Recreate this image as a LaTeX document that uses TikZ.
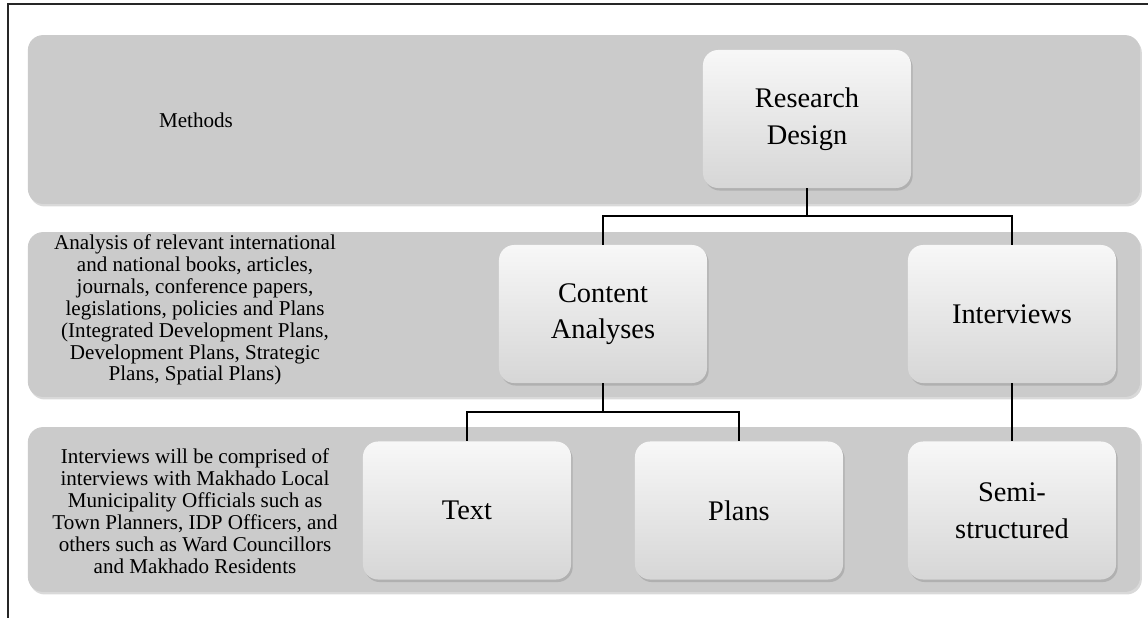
\documentclass[tikz,border=0pt]{standalone}
\usepackage{fontspec}
\setmainfont{Liberation Serif}
\usetikzlibrary{positioning, shadows}
\definecolor{bandgray}{RGB}{203,203,203}
\tikzset{
  band/.style={rectangle, rounded corners=0.38cm, fill=bandgray,
               minimum width=27.8cm, inner sep=0pt,
               drop shadow={shadow xshift=1.2pt, shadow yshift=-1.8pt, opacity=0.3}},
  stage/.style={rectangle, rounded corners=0.38cm, top color=white!97!black,
                bottom color=white!84!black, minimum width=5.2cm,
                minimum height=3.45cm, inner sep=0pt, align=center,
                font=\fontsize{20.2}{26}\selectfont,
                drop shadow={shadow xshift=1.2pt, shadow yshift=-1.8pt, opacity=0.35}},
  note/.style={align=center, font=\fontsize{15}{15.6}\selectfont},
  link/.style={line width=1.2pt}
}

\begin{document}
\begin{tikzpicture}[x=0.025cm, y=-0.025cm]
    \useasboundingbox (0,0) rectangle (1148,618);
    \draw[line width=0.9pt, black!85] (1148,4) -- (8,4) -- (8,618);

    % the three layers
    \node[band, minimum height=4.22cm] (methods) at (584,119.5) {};
    \node[band, minimum height=4.12cm] (analysis) at (584,314.5) {};
    \node[band, minimum height=4.12cm] (fieldwork) at (584,509.5) {};

    \node[note] (methodsnote) at (196,120) {Methods};
    \node[note] (analysisnote) at (195,310) {Analysis of relevant international\\
      and national books, articles,\\ journals, conference papers,\\
      legislations, policies and Plans\\ (Integrated Development Plans,\\
      Development Plans, Strategic\\ Plans, Spatial Plans)};
    \node[note] (fieldworknote) at (195,511) {Interviews will be comprised of\\
      interviews with Makhado Local\\ Municipality Officials such as\\
      Town Planners, IDP Officers, and\\ others such as Ward Councillors\\
      and Makhado Residents};

    % the tree
    \node[stage] (design) at (807,119) {Research\\Design};
    \node[stage] (content) at (603,314) {Content\\Analyses};
    \node[stage] (interviews) at (1012,314) {Interviews};
    \node[stage] (text) at (467,510.5) {Text};
    \node[stage] (plans) at (739,510.5) {Plans};
    \node[stage] (semi) at (1012,510.5) {Semi-\\structured};

    \draw[link] (design.south) -- ++(0,28) -| (content.north);
    \draw[link] (design.south) -- ++(0,28) -| (interviews.north);
    \draw[link] (content.south) -- ++(0,29) -| (text.north);
    \draw[link] (content.south) -- ++(0,29) -| (plans.north);
    \draw[link] (interviews.south) -- (semi.north);
\end{tikzpicture}
\end{document}
